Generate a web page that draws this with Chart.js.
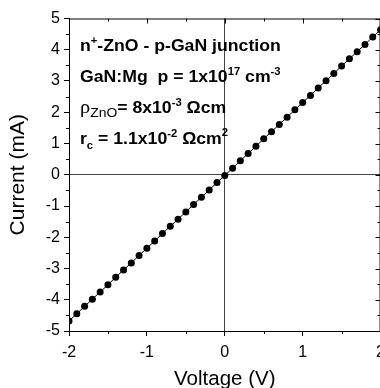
<!DOCTYPE html>
<html>
<head>
<meta charset="utf-8">
<script src="https://cdn.jsdelivr.net/npm/chart.js@4.4.1/dist/chart.umd.min.js"></script>
<style>
  html, body { margin: 0; padding: 0; background: #fff; overflow: hidden; }
  #wrap { position: absolute; left: 0; top: 0; width: 392px; height: 388px; }
</style>
</head>
<body>
<div id="wrap"><canvas id="iv"></canvas></div>
<script>
// I-V data (every 0.1 V)
const voltage = [-2.0, -1.9, -1.8, -1.7, -1.6, -1.5, -1.4, -1.3, -1.2, -1.1, -1.0,
  -0.9, -0.8, -0.7, -0.6, -0.5, -0.4, -0.3, -0.2, -0.1, 0.0,
  0.1, 0.2, 0.3, 0.4, 0.5, 0.6, 0.7, 0.8, 0.9, 1.0,
  1.1, 1.2, 1.3, 1.4, 1.5, 1.6, 1.7, 1.8, 1.9, 2.0];
const current = [-4.68, -4.45, -4.21, -3.98, -3.75, -3.52, -3.28, -3.05, -2.82, -2.58, -2.35,
  -2.12, -1.88, -1.65, -1.42, -1.19, -0.95, -0.72, -0.49, -0.25, -0.02,
  0.21, 0.45, 0.68, 0.91, 1.15, 1.38, 1.61, 1.84, 2.08, 2.31,
  2.54, 2.78, 3.01, 3.24, 3.48, 3.71, 3.94, 4.17, 4.41, 4.64];
const xTicks = [-2, -1, 0, 1, 2];
const yTicks = [-5, -4, -3, -2, -1, 0, 1, 2, 3, 4, 5];

const B = 'bold 16.5px "Liberation Sans", Arial, sans-serif';
const S = 'bold 10.5px "Liberation Sans", Arial, sans-serif';
const R = '13px "Liberation Sans", Arial, sans-serif';
const G = '19px "Liberation Serif", serif';

// text block, one entry per line: [baseline y, runs]
const notes = [
  [51, [{ t: 'n', f: B }, { t: '+', f: S, dy: -7 }, { t: '-ZnO - p-GaN junction', f: B }]],
  [82, [{ t: 'GaN:Mg  p = 1x10', f: B }, { t: '17', f: S, dy: -7 }, { t: ' cm', f: B }, { t: '-3', f: S, dy: -7 }]],
  [113, [{ t: 'ρ', f: G }, { t: 'ZnO', f: R, dy: 4 }, { t: '= 8x10', f: B }, { t: '-3', f: S, dy: -7 }, { t: ' Ωcm', f: B }]],
  [144, [{ t: 'r', f: B }, { t: 'c', f: S, dy: 5 }, { t: ' = 1.1x10', f: B }, { t: '-2', f: S, dy: -7 }, { t: ' Ωcm', f: B }, { t: '2', f: S, dy: -8 }]]
];

const frame = {
  id: 'frame',
  afterDraw(chart) {
    const { ctx, chartArea: a, scales: { x, y } } = chart;
    ctx.save();
    ctx.strokeStyle = '#000';
    ctx.lineWidth = 1;
    ctx.beginPath();
    ctx.moveTo(a.left, a.top + 0.5); ctx.lineTo(a.right, a.top + 0.5);
    ctx.moveTo(a.right - 0.5, a.top); ctx.lineTo(a.right - 0.5, a.bottom);
    // minor ticks outside, mirrored ticks inside
    for (let v = x.min; v <= x.max + 1e-9; v += 0.5) {
      const px = Math.round(x.getPixelForValue(v)) + 0.5;
      const major = Math.abs(v - Math.round(v)) < 1e-9;
      if (!major) { ctx.moveTo(px, a.bottom); ctx.lineTo(px, a.bottom + 3); }
      ctx.moveTo(px, a.top); ctx.lineTo(px, a.top + (major ? 5 : 3));
    }
    for (let v = y.min; v <= y.max + 1e-9; v += 0.5) {
      const py = Math.round(y.getPixelForValue(v)) + 0.5;
      const major = Math.abs(v - Math.round(v)) < 1e-9;
      if (!major) { ctx.moveTo(a.left, py); ctx.lineTo(a.left - 3, py); }
      ctx.moveTo(a.right, py); ctx.lineTo(a.right - (major ? 5 : 3), py);
    }
    ctx.stroke();

    ctx.fillStyle = '#000';
    ctx.textBaseline = 'alphabetic';
    ctx.textAlign = 'left';
    notes.forEach(([by, runs]) => {
      ctx.save();
      ctx.translate(80, by);
      ctx.scale(1.07, 1);
      let cx = 0;
      runs.forEach(r => {
        ctx.font = r.f;
        ctx.fillText(r.t, cx, r.dy || 0);
        cx += ctx.measureText(r.t).width;
      });
      ctx.restore();
    });
    ctx.restore();
  }
};

const zeroLine = c => (c.tick && c.tick.value === 0 ? '#444' : 'rgba(0,0,0,0)');
const tickFont = { family: '"Liberation Sans", Arial, sans-serif', size: 16 };

new Chart(document.getElementById('iv'), {
  type: 'scatter',
  data: {
    datasets: [{
      data: voltage.map((v, i) => ({ x: v, y: current[i] })),
      showLine: true,
      borderColor: '#000',
      borderWidth: 1,
      backgroundColor: '#000',
      pointBackgroundColor: '#000',
      pointBorderWidth: 0,
      pointRadius: 3.5
    }]
  },
  options: {
    responsive: true,
    maintainAspectRatio: false,
    animation: false,
    layout: { padding: { top: 18.5, right: 11, left: 0, bottom: 0 } },
    plugins: { legend: { display: false }, tooltip: { enabled: false } },
    scales: {
      x: {
        type: 'linear', min: -2, max: 2,
        afterBuildTicks: s => { s.ticks = xTicks.map(v => ({ value: v })); },
        afterFit: s => { s.height = 57; },
        ticks: { color: '#000', font: tickFont, padding: 7, maxRotation: 0 },
        grid: { color: zeroLine, tickColor: '#000', tickLength: 5 },
        border: { color: '#000', width: 1 },
        title: { display: true, text: 'Voltage (V)', color: '#000', font: { family: '"Liberation Sans", Arial, sans-serif', size: 20.5, lineHeight: 0.8 }, padding: { top: 0, bottom: 0 } }
      },
      y: {
        min: -5, max: 5,
        afterBuildTicks: s => { s.ticks = yTicks.map(v => ({ value: v })); },
        afterFit: s => { s.width = 69; },
        ticks: { color: '#000', font: tickFont, padding: 4 },
        grid: { color: zeroLine, tickColor: '#000', tickLength: 5 },
        border: { color: '#000', width: 1 },
        title: { display: true, text: 'Current (mA)', color: '#000', font: { family: '"Liberation Sans", Arial, sans-serif', size: 21, lineHeight: 1.1 }, padding: { top: 7, bottom: 0 } }
      }
    }
  },
  plugins: [frame]
});
</script>
</body>
</html>
